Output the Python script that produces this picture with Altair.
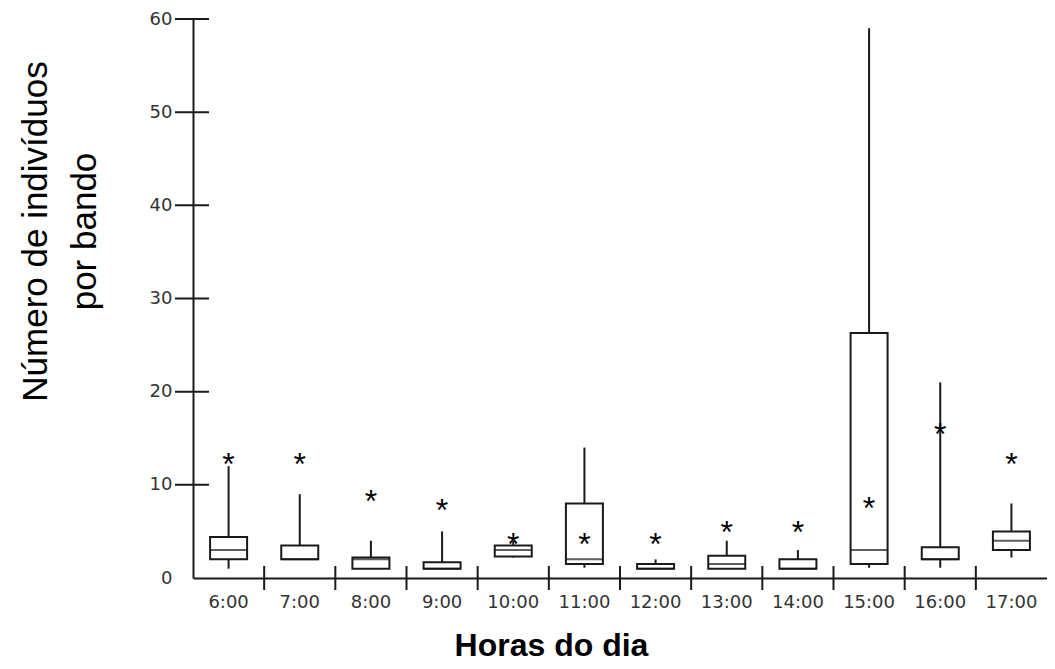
import altair as alt
import pandas as pd

hours = ["6:00", "7:00", "8:00", "9:00", "10:00", "11:00", "12:00",
         "13:00", "14:00", "15:00", "16:00", "17:00"]
whisker_low = [1, 2, 1, 1, 2.2, 1.1, 1, 1, 1, 1.1, 1.1, 2.2]
q1 = [2, 2, 1, 1, 2.3, 1.5, 1, 1, 1, 1.5, 2, 3]
median = [3, 2, 2, 1, 3, 2, 1, 1.5, 1, 3, 2, 4]
q3 = [4.4, 3.5, 2.2, 1.7, 3.5, 8, 1.5, 2.4, 2, 26.3, 3.3, 5]
whisker_high = [12, 9, 4, 5, 4, 14, 2, 4, 3, 59, 21, 8]
outlier = [13, 13, 9, 8, 4.4, 4.4, 4.4, 5.7, 5.7, 8.3, 16.2, 13]
y_ticks = [10, 20, 30, 40, 50, 60]

df = pd.DataFrame({"hora": hours, "wlo": whisker_low, "q1": q1, "med": median,
                   "q3": q3, "whi": whisker_high, "out": outlier})
ytick_df = pd.DataFrame({"v": y_ticks})
xtick_df = pd.DataFrame({"hora": hours[1:]})

INK = "#1a1a1a"
BOXW = 37

xscale = alt.Scale(domain=hours, paddingInner=0, paddingOuter=0)
yscale = alt.Scale(domain=[0, 60], nice=False, zero=True)

x_enc = alt.X("hora:N", scale=xscale, sort=hours,
              axis=alt.Axis(title="Horas do dia", labelAngle=0, ticks=False, tickSize=0,
                            labelPadding=15, labelFontSize=18, labelColor="#333",
                            labelFont="DejaVu Sans",
                            titleFont="Liberation Sans", titleFontWeight="bold",
                            titleFontSize=32, titleColor="#000",
                            titleX=358, titleY=77, titleAlign="center",
                            titleBaseline="alphabetic",
                            domainColor=INK, domainWidth=2, grid=False))

y_enc = alt.Y("wlo:Q", scale=yscale,
              axis=alt.Axis(title=["Número de indivíduos", "por bando"],
                            values=[0, 10, 20, 30, 40, 50, 60], ticks=False, tickSize=0,
                            labelPadding=21, labelFontSize=18, labelColor="#333",
                            labelFont="DejaVu Sans",
                            titleFont="Liberation Sans",
                            titleFontWeight="normal", titleFontSize=35, titleColor="#000",
                            titleAngle=270, titleX=-147, titleY=212, titleAlign="center",
                            titleBaseline="alphabetic", titleLineHeight=49,
                            domainColor=INK, domainWidth=2, grid=False))

whiskers = alt.Chart(df).mark_rule(color=INK, strokeWidth=2).encode(
    x=x_enc, y=y_enc, y2="whi:Q")

boxes = alt.Chart(df).mark_bar(size=BOXW, fill="white", stroke=INK, strokeWidth=2).encode(
    x=alt.X("hora:N", scale=xscale, sort=hours),
    y=alt.Y("q1:Q", scale=yscale), y2="q3:Q")

medians = alt.Chart(df).mark_tick(size=BOXW, thickness=2, color=INK).encode(
    x=alt.X("hora:N", scale=xscale, sort=hours),
    y=alt.Y("med:Q", scale=yscale))

stars = alt.Chart(df).mark_text(text="*", fontSize=32, font="Liberation Sans",
                                color="#000", baseline="alphabetic", dy=18).encode(
    x=alt.X("hora:N", scale=xscale, sort=hours),
    y=alt.Y("out:Q", scale=yscale))

yticks = alt.Chart(ytick_df).mark_rule(color=INK, strokeWidth=2).encode(
    y=alt.Y("v:Q", scale=yscale), x=alt.value(-18), x2=alt.value(16))

xticks = alt.Chart(xtick_df).mark_rule(color=INK, strokeWidth=2).encode(
    x=alt.X("hora:N", scale=xscale, sort=hours, bandPosition=0),
    y=alt.value(547), y2=alt.value(571))

chart = alt.layer(whiskers, boxes, medians, stars, yticks, xticks).properties(
    width=854, height=559,
    autosize=alt.AutoSizeParams(type="none"),
    padding={"left": 185, "top": 11, "right": 0, "bottom": 83},
).configure(background="white").configure_view(stroke=None)

chart.save("out.html", embed_options={"renderer": "svg", "actions": False})
